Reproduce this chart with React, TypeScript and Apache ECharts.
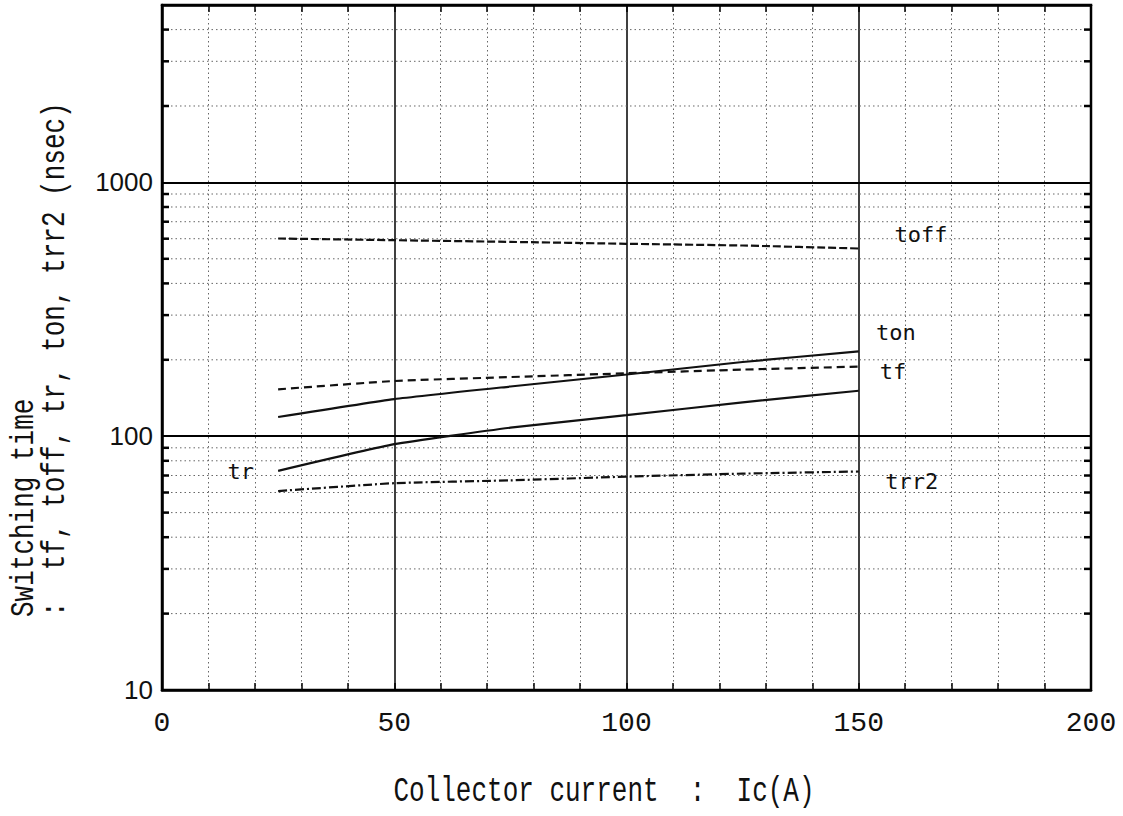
import React, { useEffect, useRef } from "react";
import * as echarts from "echarts";

// ---- data ----
const X_VALUES = [25, 50, 75, 100, 125, 150];
const TOFF = [601, 592, 583, 573, 564, 549];
const TON = [119, 140, 157, 175, 196, 216];
const TF = [153, 165, 171, 177, 183, 188];
const TR = [73, 93, 108, 121, 136, 151];
const TRR2 = [60.8, 65.3, 67.0, 69.3, 71.2, 72.6];

const SERIES_NAMES = ["toff", "ton", "tf", "tr", "trr2"];
// label anchor points (in data units) for the in-plot curve names
const LABEL_AT: [number, number][] = [
  [157.6, 622],
  [153.6, 257],
  [154.4, 180],
  [14.0, 72.5],
  [155.6, 66.4],
];

const X_MIN = 0;
const X_MAX = 200;
const X_INTERVAL = 50;
const Y_MIN = 10;
const Y_MAX = 5000;
const Y_LABELS = [10, 100, 1000];
const Y_MINOR = [20, 30, 40, 50, 60, 70, 80, 90, 200, 300, 400, 500, 600, 700, 800, 900, 2000, 3000, 4000];

const X_TITLE = "Collector current  :  Ic(A)";
const Y_TITLE_1 = "Switching time";
const Y_TITLE_2 = ":  tf, toff, tr, ton, trr2 (nsec)";

const INK = "#111";

export default function App() {
  const ref = useRef<HTMLDivElement>(null);

  useEffect(() => {
    if (!ref.current) return;
    const chart = echarts.init(ref.current, undefined, { renderer: "svg" });

    const pairs = (ys: number[]) => X_VALUES.map((x, i) => [x, ys[i]]);
    const seriesData = [TOFF, TON, TF, TR, TRR2];
    const dashes: any[] = [[8, 3], "solid", [8, 5], "solid", [9, 3, 2, 3]];

    const lineSeries = seriesData.map((ys, i) => ({
      type: "line",
      name: SERIES_NAMES[i],
      data: pairs(ys),
      showSymbol: false,
      smooth: 0.15,
      z: 5,
      lineStyle: { color: INK, width: 2.2, type: dashes[i] },
      markPoint: {
        silent: true,
        symbol: "circle",
        symbolSize: 1,
        itemStyle: { color: "rgba(0,0,0,0)" },
        label: {
          show: true,
          position: "right",
          distance: 0,
          formatter: SERIES_NAMES[i],
          color: INK,
          fontFamily: "DejaVu Sans Mono",
          fontSize: 22,
        },
        data: [{ coord: LABEL_AT[i], value: SERIES_NAMES[i] }],
      },
    }));

    const minorY = {
      type: "custom",
      silent: true,
      z: 1,
      data: Y_MINOR.map((v) => [X_MIN, v]),
      encode: { x: 0, y: 1 },
      renderItem: (_params: any, api: any) => {
        const v = api.value(1);
        const p0 = api.coord([X_MIN, v]);
        const p1 = api.coord([X_MAX, v]);
        return {
          type: "group",
          children: [
            {
              type: "line",
              shape: { x1: p0[0], y1: p0[1], x2: p1[0], y2: p1[1] },
              style: { stroke: "#666", lineWidth: 1, lineDash: [1.5, 3] },
            },
            {
              type: "line",
              shape: { x1: p0[0], y1: p0[1], x2: p0[0] + 7, y2: p0[1] },
              style: { stroke: "#000", lineWidth: 2.5 },
            },
            {
              type: "line",
              shape: { x1: p1[0] - 7, y1: p1[1], x2: p1[0], y2: p1[1] },
              style: { stroke: "#000", lineWidth: 2.5 },
            },
          ],
        };
      },
    };

    const xCommon = {
      type: "value",
      min: X_MIN,
      max: X_MAX,
      interval: X_INTERVAL,
      axisLine: { show: true, lineStyle: { color: "#000", width: 2.5 } },
      axisTick: { show: true, inside: true, length: 7, lineStyle: { color: "#000", width: 1.5 } },
      minorTick: { show: true, splitNumber: 5, length: 7, lineStyle: { color: "#000", width: 1.5 } },
    };

    chart.setOption({
      animation: false,
      backgroundColor: "#fff",
      grid: {
        left: 162,
        right: 32,
        top: 5,
        bottom: 126,
        show: true,
        borderColor: "#000",
        borderWidth: 2.5,
        backgroundColor: "transparent",
      },
      xAxis: [
        {
          ...xCommon,
          position: "bottom",
          axisLabel: {
            show: true,
            margin: 19,
            color: INK,
            fontFamily: "Liberation Mono",
            fontSize: 28,
          },
          splitLine: { show: true, lineStyle: { color: "#000", width: 1.5, type: "solid" } },
          minorSplitLine: { show: true, lineStyle: { color: "#666", width: 1, type: [1.5, 3] } },
        },
        {
          ...xCommon,
          position: "top",
          axisLabel: { show: false },
          splitLine: { show: false },
          minorSplitLine: { show: false },
        },
      ],
      yAxis: {
        type: "log",
        logBase: 10,
        min: Y_MIN,
        max: Y_MAX,
        axisLine: { show: true, lineStyle: { color: "#000", width: 2.5 } },
        axisTick: { show: false },
        axisLabel: {
          show: true,
          margin: 9,
          color: INK,
          fontFamily: "Liberation Sans",
          fontSize: 26,
          showMaxLabel: false,
          formatter: (v: number) => {
            const r = Math.round(v);
            return Y_LABELS.indexOf(r) >= 0 ? String(r) : "";
          },
        },
        splitLine: { show: true, lineStyle: { color: "#000", width: 2, type: "solid" } },
      },
      graphic: [
        {
          type: "text",
          x: 604,
          y: 791,
          scaleY: 1.35,
          silent: true,
          style: {
            text: X_TITLE,
            font: '26px "Liberation Mono"',
            fill: INK,
            align: "center",
            textAlign: "center",
            verticalAlign: "middle",
            textVerticalAlign: "middle",
          },
        },
        {
          type: "text",
          x: 24,
          y: 617,
          rotation: Math.PI / 2,
          scaleY: 1.3,
          silent: true,
          style: {
            text: Y_TITLE_1,
            font: '26px "Liberation Mono"',
            fill: INK,
            align: "left",
            textAlign: "left",
            verticalAlign: "middle",
            textVerticalAlign: "middle",
          },
        },
        {
          type: "text",
          x: 55,
          y: 617,
          rotation: Math.PI / 2,
          scaleY: 1.3,
          silent: true,
          style: {
            text: Y_TITLE_2,
            font: '26px "Liberation Mono"',
            fill: INK,
            align: "left",
            textAlign: "left",
            verticalAlign: "middle",
            textVerticalAlign: "middle",
          },
        },
      ],
      series: [minorY, ...lineSeries],
    });

    return () => chart.dispose();
  }, []);

  return (
    <div
      ref={ref}
      style={{ position: "fixed", left: 0, top: 0, width: 1123, height: 816, background: "#fff" }}
    />
  );
}
